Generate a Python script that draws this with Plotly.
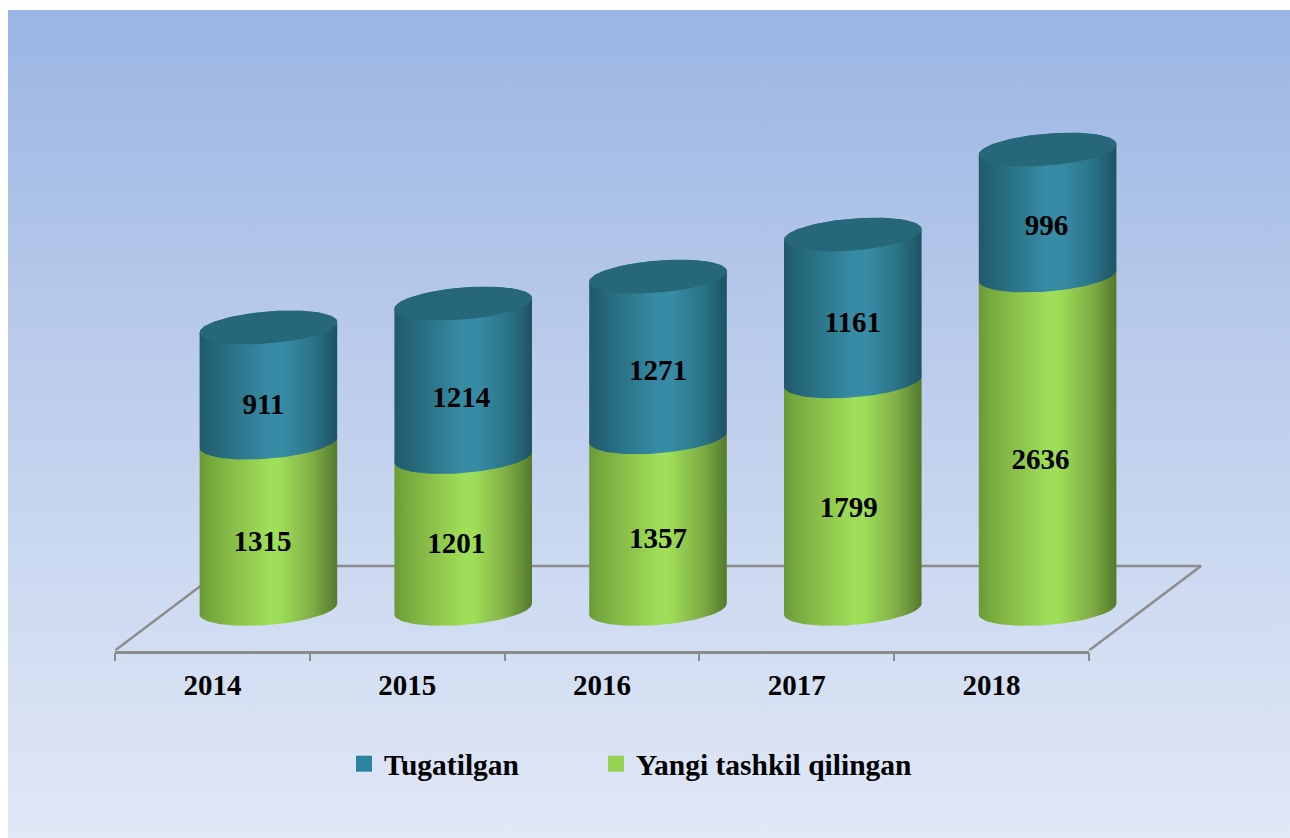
import numpy as np
import plotly.graph_objects as go

# ---- data ----
years = ["2014", "2015", "2016", "2017", "2018"]
new_firms = [1315, 1201, 1357, 1799, 2636]      # Yangi tashkil qilingan
closed_firms = [911, 1214, 1271, 1161, 996]     # Tugatilgan

# ---- style / geometry (pixel values are page pixels) ----
W, H = 1290, 838
FONT = "Liberation Serif"
X0_PX, X1_PX = 115, 1089
MARKS_X1_PX = 1210
BASE_PX = 609.0
AXIS_PX = 650.5
TOP_PX = 60.0
PX_PER_VALUE = 0.1265
PX_PER_CAT = (X1_PX - X0_PX) / 5
MARKS_X_MAX = -0.5 + (MARKS_X1_PX - X0_PX) / PX_PER_CAT
CYL_SHIFT = 56.0 / PX_PER_CAT
CYL_RX = 68.8 / PX_PER_CAT
ELL_B = 16.0
ELL_K = 5.4
FLOOR_DEPTH_X = 112 / PX_PER_CAT
FLOOR_BACK_VALUE = (BASE_PX - 566) / PX_PER_VALUE
AX_MIN = (BASE_PX - AXIS_PX) / PX_PER_VALUE
AX_MAX = (BASE_PX - TOP_PX) / PX_PER_VALUE

BLUE = [[0, "#1f5a6b"], [0.25, "#2b7488"], [0.5, "#378ca5"], [0.6, "#378ca5"], [0.82, "#2b7488"], [1, "#1d5363"]]
GREEN = [[0, "#6a9a37"], [0.08, "#76a93d"], [0.25, "#8abe48"], [0.5, "#9ede58"], [0.58, "#9ede58"],
         [0.82, "#80ad45"], [1, "#537a2d"]]
CAP = "#26677a"
AXIS_COLOR = "#8c8c8c"

# label nudges in pixels (x, y-down) from each segment's middle
NEW_DX, NEW_DY = [-6, -7, 0, -4, -7], [18, 13, 18, 15, 19]
CLOSED_DX, CLOSED_DY = [-5, -2, 0, 0, -1], [22, 19, 16, 17, 15.5]


def px_x(p):
    return p / W


def px_y(p):
    return 1 - p / H


def arc(cx, level, t0, t1, n=60):
    t = np.linspace(t0, t1, n)
    x = cx + CYL_RX * np.cos(t)
    y_px = -ELL_K * np.cos(t) + ELL_B * np.sin(t)
    return x, level - y_px / PX_PER_VALUE


def body(cx, lo, hi, scale, name):
    xt, yt = arc(cx, hi, np.pi, 2 * np.pi)
    xb, yb = arc(cx, lo, 0, np.pi)
    return go.Scatter(
        x=np.r_[xt, xb], y=np.r_[yt, yb], mode="lines", fill="toself",
        line=dict(width=0, color="rgba(0,0,0,0)"),
        fillgradient=dict(type="horizontal", colorscale=scale, start=cx - CYL_RX, stop=cx + CYL_RX),
        xaxis="x2", yaxis="y2", showlegend=False, hoverinfo="skip", name=name,
    )


fig = go.Figure()

# page background
bg_x = [0, 1, 1, 0, 0]
bg_y = [0, 0, 1, 1, 0]
fig.add_trace(go.Scatter(
    x=bg_x, y=bg_y, mode="lines", fill="toself", line=dict(width=0, color="rgba(0,0,0,0)"),
    fillgradient=dict(type="vertical", start=0, stop=1,
                      colorscale=[[0, "#e1e8f6"], [0.35, "#cad8f0"], [0.65, "#b6c8ea"], [1, "#9ab5e4"]]),
    xaxis="x", yaxis="y", showlegend=False, hoverinfo="skip",
))

# floor
fig.add_trace(go.Scatter(
    x=[-0.5, -0.5 + FLOOR_DEPTH_X, 4.5 + FLOOR_DEPTH_X, 4.5],
    y=[AX_MIN, FLOOR_BACK_VALUE, FLOOR_BACK_VALUE, AX_MIN],
    mode="lines", line=dict(color=AXIS_COLOR, width=2.5), xaxis="x2", yaxis="y2",
    showlegend=False, hoverinfo="skip",
))

# cylinders
for i, (g, b) in enumerate(zip(new_firms, closed_firms)):
    cx = i + CYL_SHIFT
    fig.add_trace(body(cx, 0, g, GREEN, "Yangi tashkil qilingan"))
    fig.add_trace(body(cx, g, g + b, BLUE, "Tugatilgan"))
    xc, yc = arc(cx, g + b, 0, 2 * np.pi, 90)
    fig.add_trace(go.Scatter(
        x=xc, y=yc, mode="lines", fill="toself", fillcolor=CAP,
        line=dict(width=0, color="rgba(0,0,0,0)"), xaxis="x2", yaxis="y2",
        showlegend=False, hoverinfo="skip",
    ))

# data labels
cyl_x = np.arange(5) + CYL_SHIFT
new_arr = np.array(new_firms, float)
closed_arr = np.array(closed_firms, float)
label_font = dict(family=FONT, size=29, color="#000000", weight="bold")
fig.add_trace(go.Scatter(
    x=cyl_x + np.array(NEW_DX) / PX_PER_CAT,
    y=new_arr / 2 - np.array(NEW_DY) / PX_PER_VALUE,
    text=[str(v) for v in new_firms], mode="text", textposition="middle center",
    textfont=label_font, xaxis="x2", yaxis="y2", showlegend=False, hoverinfo="skip",
))
fig.add_trace(go.Scatter(
    x=cyl_x + np.array(CLOSED_DX) / PX_PER_CAT,
    y=new_arr + closed_arr / 2 - np.array(CLOSED_DY) / PX_PER_VALUE,
    text=[str(v) for v in closed_firms], mode="text", textposition="middle center",
    textfont=label_font, xaxis="x2", yaxis="y2", showlegend=False, hoverinfo="skip",
))

# legend keys (also carry the category axis)
fig.add_trace(go.Scatter(x=[None], y=[None], mode="markers", name="Tugatilgan", legend="legend",
                         marker=dict(symbol="square", size=16, color="#2f829f"), xaxis="x3", yaxis="y2"))
fig.add_trace(go.Scatter(x=[None], y=[None], mode="markers", name="Yangi tashkil qilingan", legend="legend2",
                         marker=dict(symbol="square", size=16, color="#94d452"), xaxis="x3", yaxis="y2"))

legend_font = dict(family=FONT, size=29.5, color="#000000", weight="bold")
fig.update_layout(
    width=W, height=H, margin=dict(l=0, r=0, t=0, b=0), autosize=False,
    paper_bgcolor="white", plot_bgcolor="rgba(0,0,0,0)",
    font=dict(family=FONT, size=29, color="#000000"),
    xaxis=dict(domain=[px_x(8), 1], range=[0, 1], visible=False, fixedrange=True),
    yaxis=dict(domain=[0, px_y(10)], range=[0, 1], visible=False, fixedrange=True),
    xaxis2=dict(domain=[px_x(X0_PX), px_x(MARKS_X1_PX)], range=[-0.5, MARKS_X_MAX], anchor="y2",
                visible=False, fixedrange=True),
    xaxis3=dict(
        domain=[px_x(X0_PX), px_x(X1_PX)], range=[-0.5, 4.5], anchor="y2",
        tickmode="array", tickvals=list(range(5)), ticktext=years, ticks="", ticklabelstandoff=7,
        tickfont=dict(family=FONT, size=29, color="#000000", weight="bold"),
        showgrid=False, zeroline=False, showline=True, linecolor=AXIS_COLOR, linewidth=2.5,
        minor=dict(tickmode="array", tickvals=[-0.5, 0.5, 1.5, 2.5, 3.5, 4.5], ticks="outside",
                   ticklen=8, tickwidth=2, tickcolor=AXIS_COLOR, showgrid=False),
        fixedrange=True,
    ),
    yaxis2=dict(domain=[px_y(AXIS_PX), px_y(TOP_PX)], range=[AX_MIN, AX_MAX], anchor="x2",
                visible=False, fixedrange=True),
    legend=dict(orientation="h", x=px_x(344), xanchor="left", y=px_y(738), yanchor="top",
                font=legend_font, bgcolor="rgba(0,0,0,0)", itemclick=False, itemdoubleclick=False),
    legend2=dict(orientation="h", x=px_x(596), xanchor="left", y=px_y(738), yanchor="top",
                 font=legend_font, bgcolor="rgba(0,0,0,0)", itemclick=False, itemdoubleclick=False),
)

fig.write_html("out.html", config=dict(displayModeBar=False),
               default_width=f"{W}px", default_height=f"{H}px",
               post_script="document.body.style.margin='0';document.documentElement.style.overflow='hidden';")
